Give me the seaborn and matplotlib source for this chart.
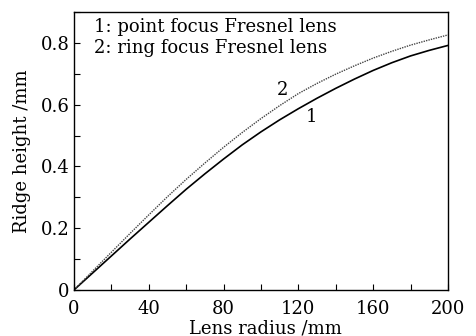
import matplotlib
matplotlib.use("Agg")
import matplotlib.pyplot as plt
import seaborn as sns
from matplotlib.ticker import MultipleLocator, FuncFormatter

# Data
radius = [0, 10, 20, 30, 40, 50, 60, 70, 80, 90, 100,
          110, 120, 130, 140, 150, 160, 170, 180, 190, 200]
height_point = [0, 0.055, 0.110, 0.165, 0.219, 0.273, 0.326, 0.376, 0.424, 0.470, 0.512,
                0.551, 0.587, 0.621, 0.653, 0.683, 0.711, 0.736, 0.758, 0.776, 0.792]
height_ring = [0, 0.061, 0.122, 0.183, 0.243, 0.302, 0.358, 0.411, 0.462, 0.510, 0.555,
               0.597, 0.636, 0.669, 0.699, 0.726, 0.751, 0.773, 0.793, 0.810, 0.826]
legend_lines = ["1: point focus Fresnel lens", "2: ring focus Fresnel lens"]
curve_labels = ["1", "2"]
x_ticks = [0, 40, 80, 120, 160, 200]
y_ticks = [0, 0.2, 0.4, 0.6, 0.8]

sns.set_style("ticks")
plt.rcParams['font.family'] = ['DejaVu Serif']
plt.rcParams['text.color'] = 'black'
plt.rcParams['axes.labelcolor'] = 'black'
plt.rcParams['xtick.color'] = 'black'
plt.rcParams['ytick.color'] = 'black'

fig = plt.figure(figsize=(4.77, 3.36), dpi=100)
ax = fig.add_axes([0.155, 0.137, 0.784, 0.827])

sns.lineplot(x=radius, y=height_point, ax=ax, color="black", linewidth=1.2)
sns.lineplot(x=radius, y=height_ring, ax=ax, color="#444444", linewidth=1.0,
             linestyle=(0, (1, 0.8)))

ax.set_xlim(0, 200)
ax.set_ylim(0, 0.9)
ax.set_xticks(x_ticks)
ax.set_yticks(y_ticks)
ax.xaxis.set_minor_locator(MultipleLocator(20))
ax.yaxis.set_minor_locator(MultipleLocator(0.1))
ax.yaxis.set_major_formatter(FuncFormatter(lambda v, p: "0" if v == 0 else f"{v:.1f}"))
ax.tick_params(which="both", direction="in", length=4, width=0.8, colors="black",
               labelsize=13, top=False, right=False)
ax.tick_params(axis="x", pad=7)
ax.tick_params(axis="y", pad=3)
for s in ax.spines.values():
    s.set_visible(True)
    s.set_color("black")
    s.set_linewidth(1.0)

ax.set_xlabel("Lens radius /mm", fontsize=13)
ax.xaxis.set_label_coords(0.513, -0.155)
ax.xaxis.label.set_va("baseline")
ax.set_ylabel("Ridge height /mm", fontsize=13, labelpad=7)

ax.text(10.5, 0.852, legend_lines[0], fontsize=13, va="center", ha="left")
ax.text(10.5, 0.785, legend_lines[1], fontsize=13, va="center", ha="left")
ax.text(127.3, 0.56, curve_labels[0], fontsize=13, va="center", ha="center")
ax.text(111.8, 0.648, curve_labels[1], fontsize=13, va="center", ha="center")

fig.savefig("out.png", dpi=100, facecolor="white")
